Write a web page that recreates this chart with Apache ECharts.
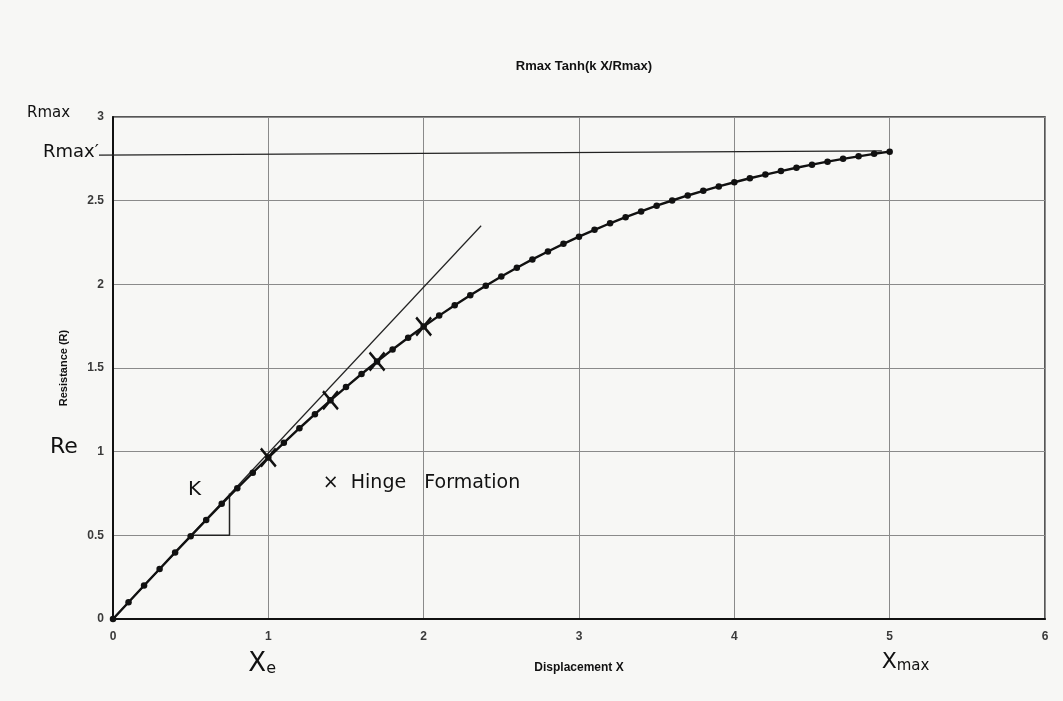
<!DOCTYPE html>
<html><head><meta charset="utf-8">
<script src="https://cdn.jsdelivr.net/npm/echarts@6/dist/echarts.min.js"></script>
<style>html,body{margin:0;padding:0;background:#f7f7f5;}#c{width:1063px;height:701px;}</style>
</head><body><div id="c"></div>
<script>
var titleText = 'Rmax Tanh(k X/Rmax)';
var xTicks = [0,1,2,3,4,5,6];
var yTicks = [0,0.5,1,1.5,2,2.5,3];
var displacementX = [0,0.1,0.2,0.3,0.4,0.5,0.6,0.7,0.8,0.9,1.0,1.1,1.2,1.3,1.4,1.5,1.6,1.7,1.8,1.9,2.0,2.1,2.2,2.3,2.4,2.5,2.6,2.7,2.8,2.9,3.0,3.1,3.2,3.3,3.4,3.5,3.6,3.7,3.8,3.9,4.0,4.1,4.2,4.3,4.4,4.5,4.6,4.7,4.8,4.9,5.0];
var resistanceR = [0,0.100,0.200,0.299,0.398,0.495,0.592,0.688,0.782,0.874,0.965,1.053,1.140,1.224,1.307,1.386,1.464,1.539,1.611,1.681,1.748,1.813,1.875,1.935,1.992,2.047,2.099,2.149,2.196,2.242,2.285,2.326,2.365,2.401,2.436,2.470,2.501,2.531,2.559,2.585,2.610,2.634,2.656,2.677,2.697,2.715,2.733,2.750,2.765,2.780,2.793];
var hingeX = [1.0,1.4,1.7,2.0];
var hingeR = [0.965,1.307,1.539,1.748];
var tangentX = [0,2.37];
var tangentR = [0,2.35];
var rmaxPrimeX = [-0.09,4.95];
var rmaxPrimeR = [2.772,2.797];
var slopeX = [0.5,0.75,0.75];
var slopeR = [0.5,0.5,0.75];

function pairs(xs, ys){ return xs.map(function(x,i){return [x, ys[i]];}); }

var chart = echarts.init(document.getElementById('c'));
var axisLabelStyle = {color:'#3a3a3a', fontFamily:'Liberation Sans, Arial', fontSize:12, fontWeight:'bold'};
chart.setOption({
  backgroundColor:'#f7f7f5',
  animation:false,
  title:{text:titleText, left:579, top:55, textAlign:'center',
    textStyle:{fontFamily:'Liberation Sans, Arial', fontSize:13, fontWeight:'bold', color:'#111'}},
  grid:{left:113, right:18, top:117, bottom:82, show:true, borderColor:'#222', borderWidth:1.5},
  xAxis:{type:'value', min:0, max:6, interval:1,
    name:'Displacement X', nameLocation:'middle', nameGap:43,
    nameTextStyle:{fontFamily:'Liberation Sans, Arial', fontSize:12, fontWeight:'bold', color:'#111'},
    axisLine:{show:true, lineStyle:{color:'#111', width:2}}, axisTick:{show:false},
    axisLabel:Object.assign({margin:12}, axisLabelStyle),
    splitLine:{show:true, lineStyle:{color:'#8a8a8a', width:1}}},
  yAxis:{type:'value', min:0, max:3, interval:0.5,
    name:'Resistance (R)', nameLocation:'middle', nameGap:44, nameRotate:90,
    nameTextStyle:{fontFamily:'Liberation Sans, Arial', fontSize:11, fontWeight:'bold', color:'#111'},
    axisLine:{show:true, lineStyle:{color:'#111', width:2}}, axisTick:{show:false},
    axisLabel:Object.assign({margin:9}, axisLabelStyle),
    splitLine:{show:true, lineStyle:{color:'#8a8a8a', width:1}}},
  series:[
    {type:'line', data:pairs(tangentX, tangentR), symbol:'none',
     lineStyle:{color:'#222', width:1.2}, z:3},
    {type:'line', data:pairs(slopeX, slopeR), symbol:'none',
     lineStyle:{color:'#222', width:1.5}, z:3},
    {type:'line', data:pairs(displacementX, resistanceR), symbol:'circle', symbolSize:6.5,
     itemStyle:{color:'#111'}, lineStyle:{color:'#111', width:2.4}, z:5},
    {type:'scatter', data:pairs(hingeX, hingeR), symbol:'path://M0,0L10,12M10,0L0,12', symbolSize:[15,18],
     itemStyle:{color:'none', borderColor:'#111', borderWidth:2.6, opacity:1}, z:6}
  ]
});

var hand = 'DejaVu Sans';
function px(x,y){ return chart.convertToPixel({gridIndex:0}, [x,y]); }
var rmaxPts = pairs(rmaxPrimeX, rmaxPrimeR).map(function(p){return px(p[0],p[1]);});
var pRmax = px(0,3), pRmaxP = px(0,2.772), pRe = px(0,1), pXe = px(1,0), pXmax = px(5,0), pK = px(0.56,0.76), pH = px(1.37,0.82);
chart.setOption({graphic:[
  {type:'polyline', shape:{points:rmaxPts}, style:{stroke:'#222', lineWidth:1.3, fill:null}, z:3},
  {type:'text', left:pRmax[0]-86, top:pRmax[1]-11, style:{text:'Rmax', font:'15px '+hand, fill:'#111'}},
  {type:'text', left:pRmaxP[0]-70, top:pRmaxP[1]-12, style:{text:'Rmax\u2032', font:'18px '+hand, fill:'#111'}},
  {type:'text', left:pRe[0]-63, top:pRe[1]-15, style:{text:'Re', font:'22px '+hand, fill:'#111'}},
  {type:'text', left:pXe[0]-20, top:pXe[1]+32, style:{
     rich:{a:{font:'26px '+hand, fill:'#111'}, b:{font:'16px '+hand, fill:'#111', padding:[10,0,0,0]}},
     text:'{a|X}{b|e}'}},
  {type:'text', left:pXmax[0]-8, top:pXmax[1]+32, style:{
     rich:{a:{font:'22px '+hand, fill:'#111'}, b:{font:'15px '+hand, fill:'#111', padding:[8,0,0,0]}},
     text:'{a|X}{b|max}'}},
  {type:'text', left:pK[0]-12, top:pK[1]-12, style:{text:'K', font:'20px '+hand, fill:'#111'}},
  {type:'text', left:pH[0]-3, top:pH[1]-8, style:{text:'\u00d7  Hinge   Formation', font:'19px '+hand, fill:'#111'}}
]});
</script></body></html>
